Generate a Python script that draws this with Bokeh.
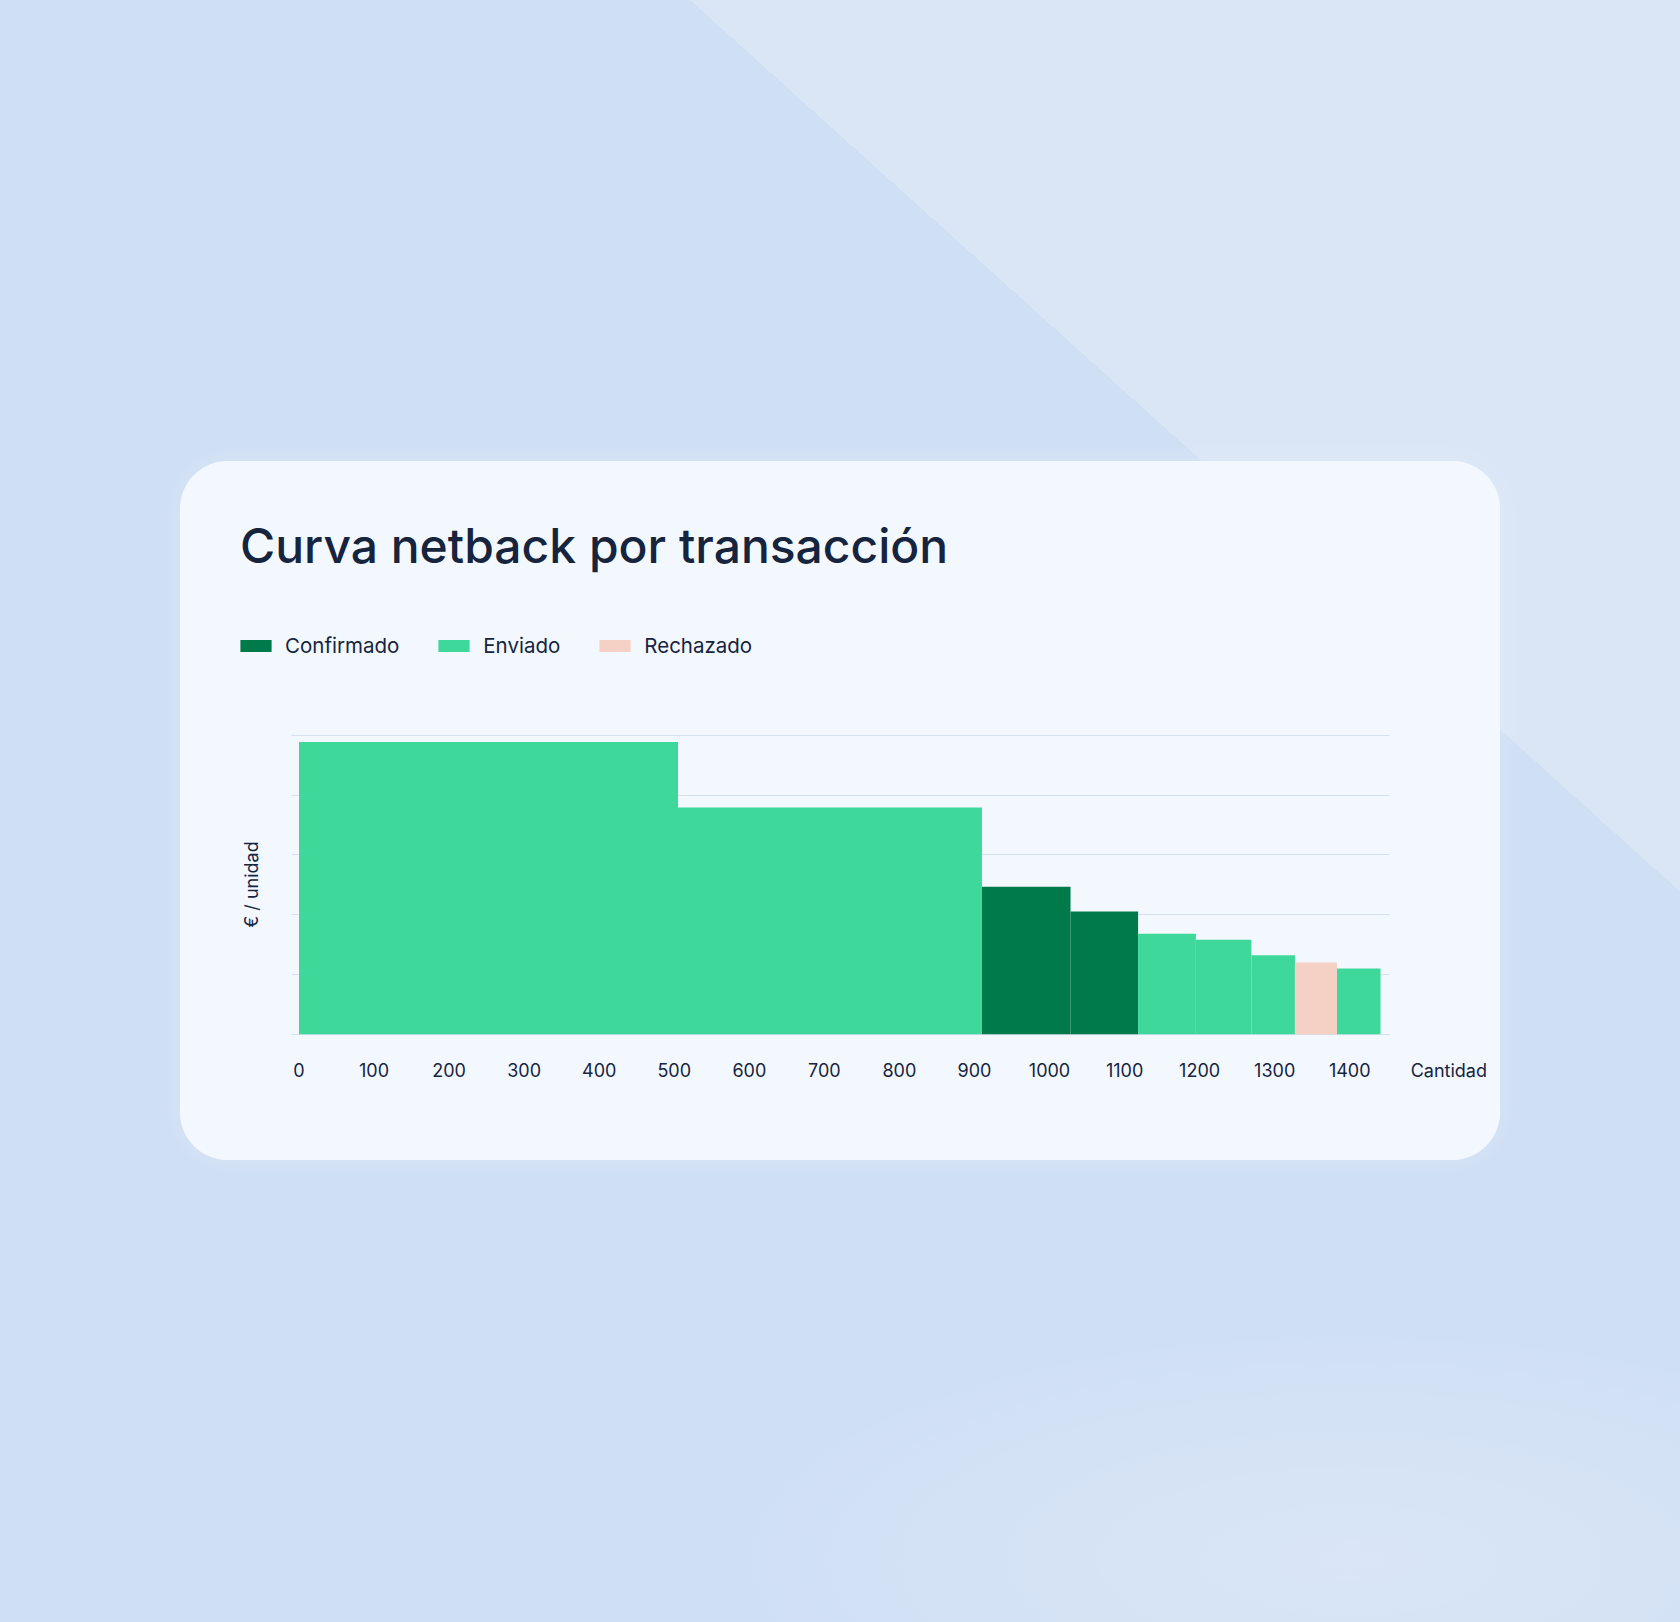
import math
import numpy as np
from bokeh.plotting import figure
from bokeh.layouts import column
from bokeh.models import (Range1d, FixedTicker, ColumnDataSource, Legend, LegendItem, Label)
from bokeh.embed import file_html
from bokeh.resources import INLINE

# ---------------- data ----------------
quantities = [505, 405, 118, 90, 77, 74, 58, 56, 58]
netback = [97.8, 75.9, 49.4, 41.1, 33.6, 31.6, 26.4, 24.0, 22.0]
status = ["Enviado", "Enviado", "Confirmado", "Confirmado", "Enviado",
          "Enviado", "Enviado", "Rechazado", "Enviado"]
status_order = ["Confirmado", "Enviado", "Rechazado"]
status_colors = {"Confirmado": "#007a4b", "Enviado": "#3ed89b", "Rechazado": "#f5d0c4"}
x_ticks = [0, 100, 200, 300, 400, 500, 600, 700, 800, 900, 1000, 1100, 1200, 1300, 1400]
y_grid = [0, 20, 40, 60, 80, 100]
title_text = "Curva netback por transacción"
x_label = "Cantidad"
y_label = "€ / unidad"

# ---------------- layout (pixels, card coordinates) ----------------
PAGE_W, PAGE_H = 1680, 1622
CARD_X, CARD_Y, CARD_W, CARD_H = 180, 461, 1320, 699
FB = 576                      # frame bottom (tick row below it)
GRID_L, GRID_R = 111, 1209    # horizontal extent of the grid lines
X_GRID = (-10.0, 1453.0)      # data extent of the grid lines
SX = (GRID_R - GRID_L) / (X_GRID[1] - X_GRID[0])
Y0_PX, SY = 572.7, 2.987      # pixel row of value 0, pixels per unit


def px_x(cx):
    return X_GRID[0] + (cx - GRID_L) / SX


def px_y(cy):
    return (Y0_PX - cy) / SY


BG = "#cfdff4"
CARD = "#f3f8ff"
INK = "#16243d"
FONT = "Inter"

p = figure(width=CARD_W, height=CARD_H, output_backend="svg", toolbar_location=None,
           x_range=Range1d(px_x(0), px_x(CARD_W)), y_range=Range1d(px_y(FB), px_y(0)),
           y_axis_location=None,
           min_border_left=0, min_border_right=0, min_border_top=0,
           min_border_bottom=CARD_H - FB)
p.title = None
p.border_fill_color = CARD
p.background_fill_color = CARD
p.outline_line_color = None
p.margin = (CARD_Y, PAGE_W - CARD_X - CARD_W, PAGE_H - CARD_Y - CARD_H, CARD_X)
p.styles = {"border-radius": "48px", "overflow": "hidden", "background-color": CARD,
            "box-shadow": "0 0 30px rgba(255,255,255,0.22)"}

# bars
left = np.concatenate([[0], np.cumsum(quantities)[:-1]])
right = np.cumsum(quantities)
renderers = {}
for s in status_order:
    idx = [i for i, st in enumerate(status) if st == s]
    src = ColumnDataSource(dict(left=left[idx], right=right[idx],
                                top=[netback[i] for i in idx],
                                bottom=[0] * len(idx)))
    renderers[s] = p.quad(left="left", right="right", top="top", bottom="bottom",
                          source=src, fill_color=status_colors[s], line_color=None)

# grid
p.xgrid.visible = False
p.ygrid.ticker = FixedTicker(ticks=y_grid)
p.ygrid.grid_line_color = "#d6e1ef"
p.ygrid.grid_line_width = 1
p.ygrid.cross_bounds = X_GRID

# x axis (axis name sits at the end of the tick row)
cant_pos = round(px_x(1448 - CARD_X))
xa = p.xaxis[0]
xa.ticker = FixedTicker(ticks=x_ticks + [cant_pos])
xa.major_label_overrides = {cant_pos: x_label}
xa.axis_line_color = None
xa.major_tick_line_color = None
xa.minor_tick_line_color = None
xa.major_tick_out = 0
xa.major_tick_in = 0
xa.major_label_standoff = 22
xa.major_label_text_font = FONT
xa.major_label_text_font_size = "18px"
xa.major_label_text_color = INK

# y axis name
p.add_layout(Label(x=px_x(71), y=px_y(423), text=y_label, angle=math.pi / 2,
                   text_font=FONT, text_font_size="18px", text_color=INK,
                   text_align="center", text_baseline="middle"))

# legend (area glyphs are drawn with a 10% inset)
legend = Legend(items=[LegendItem(label=s, renderers=[renderers[s]]) for s in status_order],
                orientation="horizontal", location=(56, FB - 197),
                glyph_width=39, glyph_height=15, label_standoff=10, spacing=35,
                padding=0, margin=0, border_line_color=None, background_fill_alpha=0,
                label_text_font=FONT, label_text_font_size="20.5px", label_text_color=INK)
p.add_layout(legend)

# title
p.add_layout(Label(x=px_x(59.5), y=px_y(84.0), text=title_text,
                   text_font="Inter Medium, Inter",
                   text_font_size="48px", text_color=INK, text_baseline="alphabetic",
                   text_align="left"))

page_bg = ("linear-gradient(42deg, rgba(255,255,255,0) 1667px, rgba(255,255,255,0.22) 1667px), "
           "radial-gradient(ellipse 700px 260px at 1350px 1560px, rgba(255,255,255,0.22), rgba(255,255,255,0)), "
           + BG)
root = column(p, styles={"background": page_bg, "position": "absolute",
                         "left": "0px", "top": "0px"})

open("out.html", "w").write(file_html(root, INLINE))
